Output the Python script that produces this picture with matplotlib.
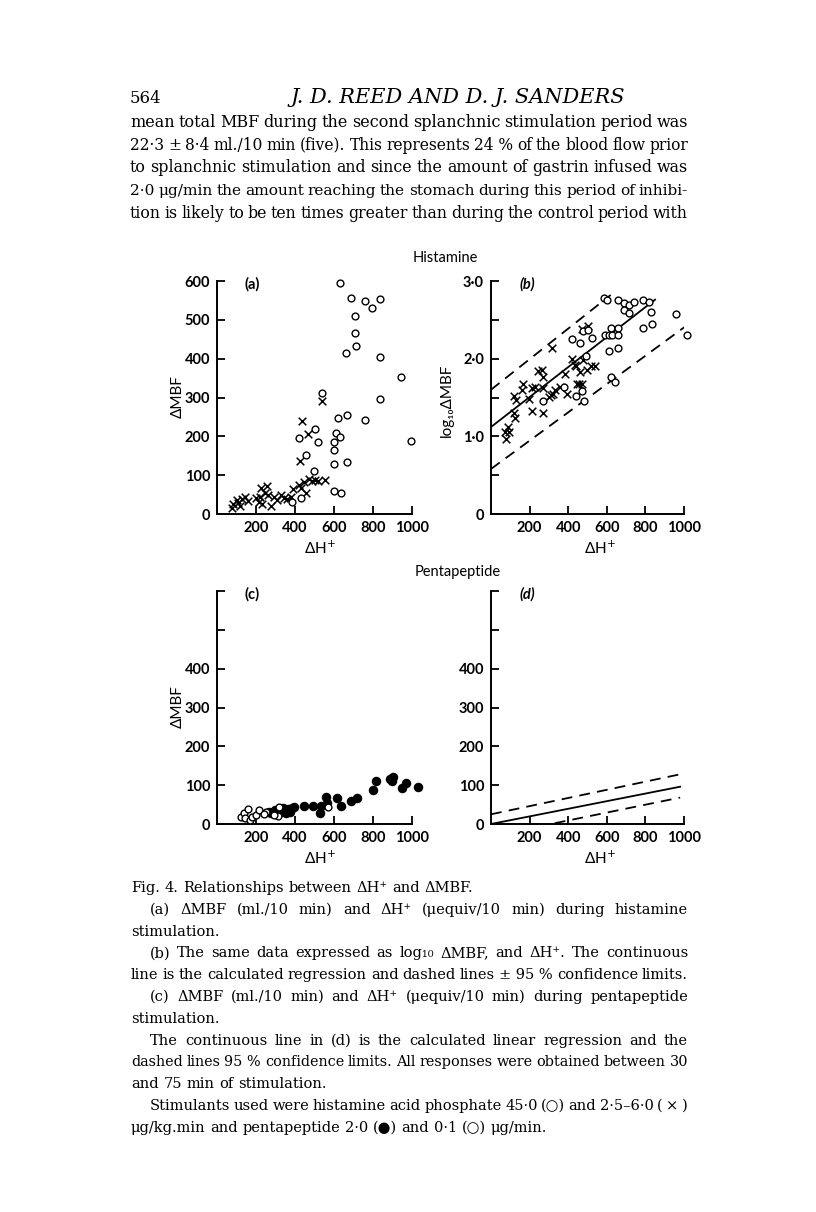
import matplotlib
matplotlib.use("Agg")
import matplotlib.pyplot as plt

W, H = 816, 1212
SERIF = ["DejaVu Serif", "DejaVu Sans"]
SANS = ["Lato", "DejaVu Sans"]

# ---- data ----
# (a) histamine: dMBF vs dH+
a_open_x = [632, 686, 760, 838, 793, 706, 707, 712, 660, 838, 944, 838, 997, 540, 420, 505,
            518, 455, 497, 618, 667, 760, 612, 630, 600, 598, 600, 665, 600, 635, 430, 385]
a_open_y = [594, 555, 549, 553, 530, 511, 465, 433, 414, 405, 354, 295, 189, 311, 195, 220,
            185, 152, 110, 248, 255, 243, 208, 197, 185, 165, 128, 135, 58, 55, 40, 30]
a_cross_x = [540, 435, 465, 425, 75, 80, 100, 110, 120, 130, 145, 160, 200, 215, 220, 225, 230,
             245, 255, 260, 275, 290, 310, 330, 345, 360, 380, 390, 420, 430, 445, 455, 470,
             485, 500, 520, 555]
a_cross_y = [292, 240, 205, 137, 15, 25, 35, 28, 20, 38, 45, 33, 40, 30, 45, 68, 25, 55, 72, 50,
             20, 45, 35, 48, 40, 38, 45, 65, 75, 68, 82, 55, 90, 85, 88, 85, 88]

# (b) log10 dMBF vs dH+
b_open_x = [583, 603, 660, 690, 715, 740, 790, 820, 690, 715, 830, 960, 1015, 790, 835, 420,
            460, 478, 500, 525, 590, 610, 625, 660, 620, 660, 610, 660, 490, 440, 470, 480,
            620, 640, 270, 380]
b_open_y = [2.78, 2.75, 2.75, 2.72, 2.69, 2.73, 2.75, 2.73, 2.63, 2.59, 2.60, 2.57, 2.30, 2.39,
            2.44, 2.25, 2.20, 2.36, 2.37, 2.26, 2.30, 2.30, 2.30, 2.30, 2.40, 2.40, 2.10, 2.14,
            2.04, 1.52, 1.58, 1.45, 1.76, 1.70, 1.45, 1.64]
b_cross_x = [75, 88, 80, 92, 120, 125, 120, 132, 165, 160, 195, 210, 215, 230, 245, 262, 270,
             268, 270, 300, 312, 322, 330, 315, 355, 385, 395, 420, 435, 445, 460, 478, 470,
             505, 495, 520, 458, 472, 540, 440]
b_cross_y = [1.05, 1.12, 0.97, 1.06, 1.30, 1.23, 1.52, 1.47, 1.67, 1.60, 1.48, 1.32, 1.62, 1.63,
             1.84, 1.85, 1.76, 1.62, 1.30, 1.51, 1.53, 1.55, 1.60, 2.14, 1.63, 1.80, 1.55, 1.99,
             1.92, 1.68, 1.83, 1.98, 2.38, 2.42, 1.86, 1.90, 1.68, 1.68, 1.90, 1.90]
b_fit_x, b_fit_y = [0, 850], [1.12, 2.76]
b_up_x, b_up_y = [0, 620], [1.60, 2.82]
b_lo_x, b_lo_y = [0, 1010], [0.58, 2.42]

# (c) pentapeptide: 2.0 (filled) and 0.1 (open)
c_fill_x = [800, 817, 885, 900, 895, 970, 950, 1031, 688, 719, 637, 615, 560, 565, 534, 528,
            491, 448, 395, 385, 365, 350, 330, 320, 310, 295, 285, 275, 265, 340, 375, 355]
c_fill_y = [88, 111, 117, 122, 110, 105, 92, 96, 58, 66, 47, 68, 70, 54, 47, 28, 47, 47, 45,
            40, 38, 35, 30, 38, 33, 35, 30, 28, 30, 42, 32, 28]
c_open_x = [123, 141, 158, 146, 168, 180, 200, 217, 251, 311, 317, 570, 240, 290]
c_open_y = [17, 28, 39, 15, 10, 17, 24, 35, 30, 21, 44, 45, 25, 22]

# (d) regression and 95% limits
d_fit_x, d_fit_y = [0, 980], [0, 96]
d_up_x, d_up_y = [0, 980], [25, 128]
d_lo_x, d_lo_y = [330, 980], [2, 68]

fig = plt.figure(figsize=(W / 100, H / 100), dpi=100)
fig.patch.set_facecolor("white")
renderer = fig.canvas.get_renderer()


def fx(x):
    return x / W


def fy(y):
    return 1 - y / H


def panel(left, top, right, bottom, ylim, yticks, ylabels):
    ax = fig.add_axes([fx(left), fy(bottom), (right - left) / W, (bottom - top) / H])
    ax.set_xlim(0, 1000)
    ax.set_ylim(*ylim)
    for s in ["top", "right"]:
        ax.spines[s].set_visible(False)
    for s in ["left", "bottom"]:
        ax.spines[s].set_linewidth(1.4)
    ax.set_xticks([200, 400, 600, 800, 1000])
    ax.set_xticklabels(["200", "400", "600", "800", "1000"])
    ax.set_yticks(yticks)
    ax.set_yticklabels(ylabels)
    ax.tick_params(direction="in", length=6, width=1.3, pad=5)
    for lab in ax.get_xticklabels() + ax.get_yticklabels():
        lab.set_family(SANS)
        lab.set_fontsize(10.5)
        lab.set_fontweight("bold")
    ax.patch.set_alpha(0)
    return ax


def open_pts(ax, x, y, s=24):
    ax.scatter(x, y, s=s, facecolors="white", edgecolors="black", linewidths=1.0,
               clip_on=False, zorder=3)


def cross_pts(ax, x, y):
    ax.scatter(x, y, s=30, marker="x", color="black", linewidths=1.1, clip_on=False, zorder=3)


mmbf = [0, 100, 200, 300, 400, 500, 600]

# (a)
ax_a = panel(217, 281, 412, 514, (0, 600), mmbf, ["0", "100", "200", "300", "400", "500", "600"])
cross_pts(ax_a, a_cross_x, a_cross_y)
open_pts(ax_a, a_open_x, a_open_y)

# (b)
ax_b = panel(491, 281, 684, 514, (0, 3.0), [0, 0.5, 1.0, 1.5, 2.0, 2.5, 3.0],
             ["0", "", "1·0", "", "2·0", "", "3·0"])
cross_pts(ax_b, b_cross_x, b_cross_y)
open_pts(ax_b, b_open_x, b_open_y)
ax_b.plot(b_fit_x, b_fit_y, color="black", lw=1.3)
ax_b.plot(b_up_x, b_up_y, color="black", lw=1.3, dashes=(6, 4))
ax_b.plot(b_lo_x, b_lo_y, color="black", lw=1.3, dashes=(6, 4))

# (c)
ax_c = panel(217, 591, 412, 824, (0, 600), mmbf, ["0", "100", "200", "300", "400", "", ""])
ax_c.scatter(c_fill_x, c_fill_y, s=34, color="black", clip_on=False, zorder=3)
open_pts(ax_c, c_open_x, c_open_y)

# (d)
ax_d = panel(491, 591, 684, 824, (0, 600), mmbf, ["0", "100", "200", "300", "400", "", ""])
ax_d.plot(d_fit_x, d_fit_y, color="black", lw=1.3)
ax_d.plot(d_up_x, d_up_y, color="black", lw=1.3, dashes=(6, 4))
ax_d.plot(d_lo_x, d_lo_y, color="black", lw=1.3, dashes=(6, 4))

# panel texts
for x, y, s, st in [(252, 284, "(a)", "normal"), (527, 284, "(b)", "italic"),
                    (252, 594, "(c)", "normal"), (527, 594, "(d)", "italic")]:
    fig.text(fx(x), fy(y), s, family=SANS, fontsize=10.5, weight="bold", style=st,
             ha="center", va="center")
for x, y in [(320, 548), (600, 548), (320, 858), (600, 858)]:
    fig.text(fx(x), fy(y), "ΔH$^{+}$", family=SANS, fontsize=11, ha="center", va="center")
for y in [397, 707]:
    fig.text(fx(178), fy(y), "ΔMBF", family=SANS, fontsize=11, rotation=90,
             ha="center", va="center")
fig.text(fx(447), fy(400), "log₁₀ΔMBF", family=SANS, fontsize=11, rotation=90,
         ha="center", va="center")
fig.text(fx(445), fy(258), "Histamine", family=SANS, fontsize=10.5, ha="center", va="center")
fig.text(fx(458), fy(572), "Pentapeptide", family=SANS, fontsize=10.5, ha="center", va="center")


def put_line(s, x0, y, size, x1=None, style="normal"):
    words = s.split(" ")
    # shrink a justified line a little if its words would not fit with a sane gap
    while True:
        ts = [fig.text(0, 0, w, family=SERIF, fontsize=size, style=style, va="baseline",
                       ha="left") for w in words]
        widths = [t.get_window_extent(renderer).width for t in ts]
        if x1 is None or len(ts) == 1:
            gap = size * 100 / 72 * 0.32
            break
        gap = (x1 - x0 - sum(widths)) / (len(ts) - 1)
        if gap >= size * 100 / 72 * 0.24:
            break
        for t in ts:
            t.remove()
        size -= 0.1
    x = x0
    for t, w in zip(ts, widths):
        t.set_position((fx(x), fy(y)))
        x += w + gap


# page header and running text
put_line("564", 130, 103, 12)
fig.text(fx(458), fy(103), "J. D. REED AND D. J. SANDERS", family=SERIF, fontsize=15,
         style="italic", ha="center", va="baseline")
body = [
    "mean total MBF during the second splanchnic stimulation period was",
    "22·3 ± 8·4 ml./10 min (five). This represents 24\u00a0% of the blood flow prior",
    "to splanchnic stimulation and since the amount of gastrin infused was",
    "2·0 μg/min the amount reaching the stomach during this period of inhibi-",
    "tion is likely to be ten times greater than during the control period with",
]
for i, line in enumerate(body):
    put_line(line, 130, 127 + i * 22.75, 11.8, x1=688)

# caption: (text, x start, justified)
caption = [
    ("Fig. 4. Relationships between ΔH⁺ and ΔMBF.", 131, False),
    ("(a) ΔMBF (ml./10 min) and ΔH⁺ (μequiv/10 min) during histamine", 150, True),
    ("stimulation.", 131, False),
    ("(b) The same data expressed as log₁₀ ΔMBF, and ΔH⁺. The continuous", 150, True),
    ("line is the calculated regression and dashed lines ±\u00a095\u00a0% confidence limits.", 131, True),
    ("(c) ΔMBF (ml./10 min) and ΔH⁺ (μequiv/10 min) during pentapeptide", 150, True),
    ("stimulation.", 131, False),
    ("The continuous line in (d) is the calculated linear regression and the", 150, True),
    ("dashed lines 95\u00a0% confidence limits. All responses were obtained between 30", 131, True),
    ("and 75 min of stimulation.", 131, False),
    ("Stimulants used were histamine acid phosphate 45·0 (○) and 2·5–6·0 ( × )", 150, True),
    ("μg/kg.min and pentapeptide 2·0 (●) and 0·1 (○) μg/min.", 131, False),
]
for i, (line, x0, just) in enumerate(caption):
    put_line(line, x0, 892 + i * 21.8, 10.5, x1=688 if just else None)

fig.savefig("out.png", dpi=100)
